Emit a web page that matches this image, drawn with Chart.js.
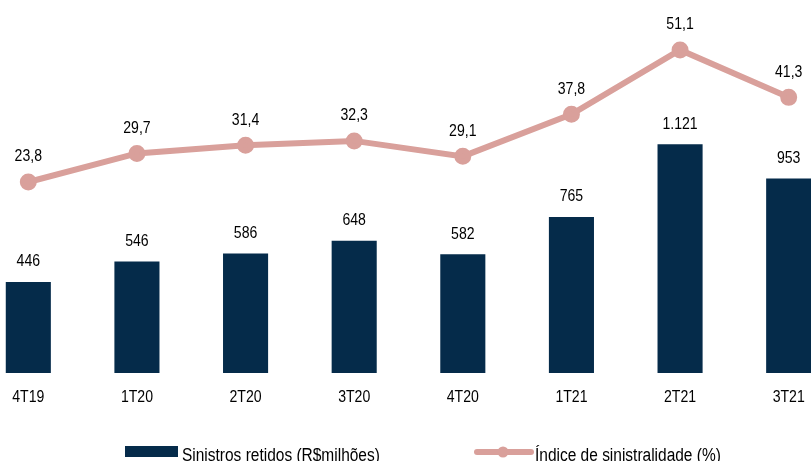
<!DOCTYPE html>
<html>
<head>
<meta charset="utf-8">
<script src="https://cdn.jsdelivr.net/npm/chart.js@4"></script>
<style>
  html, body { margin: 0; padding: 0; background: #fff; }
  #wrap { position: relative; width: 811px; height: 461px; overflow: hidden; }
  #chartBox { position: absolute; left: -26px; top: 0; width: 869px; height: 461px; }
  .sw { position: absolute; }
  .lgText { position: absolute; top: 445px; font-family: 'Liberation Sans', Arial, sans-serif; font-size: 18px; line-height: 20px; color: #000; white-space: nowrap; transform: scaleX(0.86); transform-origin: left top; }
</style>
</head>
<body>
<div id="wrap">
  <div id="chartBox"><canvas id="claimsChart"></canvas></div>
  <div class="sw" style="left:125px;top:446px;width:53px;height:11px;background:#052b4a"></div>
  <span class="lgText" id="lg1" style="left:182px"></span>
  <svg class="sw" style="left:474px;top:445px" width="60" height="14"><line x1="3" y1="7" x2="57" y2="7" stroke="#d9a09b" stroke-width="6" stroke-linecap="round"/><circle cx="29" cy="7" r="5.5" fill="#d9a09b"/></svg>
  <span class="lgText" id="lg2" style="left:535px"></span>
</div>
<script>
// Data
const quarters = ['4T19', '1T20', '2T20', '3T20', '4T20', '1T21', '2T21', '3T21'];
const claimsRetained = [446, 546, 586, 648, 582, 765, 1121, 953];
const lossRatio = [23.8, 29.7, 31.4, 32.3, 29.1, 37.8, 51.1, 41.3];
const claimsLabel = 'Sinistros retidos (R$milhões)';
const ratioLabel = 'Índice de sinistralidade (%)';

const FONT = "'Liberation Sans', Arial, sans-serif";
const BAR_COLOR = '#052b4a';
const LINE_COLOR = '#d9a09b';
const NARROW = 0.88; // reference uses a condensed face

document.getElementById('lg1').textContent = claimsLabel;
document.getElementById('lg2').textContent = ratioLabel;

function fmtBar(v) {
    return v.toLocaleString('pt-BR');
}
function fmtLine(v) {
    return v.toFixed(1).replace('.', ',');
}

function narrowText(ctx, txt, x, y) {
    ctx.save();
    ctx.translate(x, y);
    ctx.scale(NARROW, 1);
    ctx.fillText(txt, 0, 0);
    ctx.restore();
}

// value labels + category labels, drawn condensed
const textLayer = {
    id: 'textLayer',
    afterDatasetsDraw(chart) {
        const ctx = chart.ctx;
        ctx.save();
        ctx.font = '16px ' + FONT;
        ctx.fillStyle = '#000';
        ctx.textAlign = 'center';
        ctx.textBaseline = 'middle';
        chart.data.datasets.forEach((ds, i) => {
            const meta = chart.getDatasetMeta(i);
            meta.data.forEach((el, j) => {
                if (ds.type === 'bar') {
                    narrowText(ctx, fmtBar(ds.data[j]), el.x, el.y - 20);
                } else {
                    narrowText(ctx, fmtLine(ds.data[j]), el.x, el.y - 25);
                }
            });
        });
        const xs = chart.scales.x;
        quarters.forEach((q, i) => {
            narrowText(ctx, q, xs.getPixelForValue(i), chart.chartArea.bottom + 25);
        });
        ctx.restore();
    }
};

function initChart() {
    const ctx = document.getElementById('claimsChart').getContext('2d');
    new Chart(ctx, {
        data: {
            labels: quarters,
            datasets: [{
                type: 'line',
                label: ratioLabel,
                data: lossRatio,
                yAxisID: 'yRatio',
                borderColor: LINE_COLOR,
                backgroundColor: LINE_COLOR,
                borderWidth: 6,
                pointRadius: 5.5,
                pointHoverRadius: 5.5,
                tension: 0,
                order: 0
            }, {
                type: 'bar',
                label: claimsLabel,
                data: claimsRetained,
                yAxisID: 'yClaims',
                backgroundColor: BAR_COLOR,
                barPercentage: 0.83,
                categoryPercentage: 0.5,
                order: 1
            }]
        },
        options: {
            responsive: true,
            maintainAspectRatio: false,
            animation: false,
            layout: { autoPadding: false, padding: { top: 20, bottom: 88, left: 0, right: 0 } },
            plugins: {
                legend: { display: false },
                tooltip: { enabled: false }
            },
            scales: {
                x: { display: false, offset: true },
                yClaims: { display: false, min: 0, max: 1730 },
                yRatio: { display: false, min: -15.7, max: 57.3 }
            }
        },
        plugins: [textLayer]
    });
}

document.addEventListener('DOMContentLoaded', initChart);
</script>
</body>
</html>
